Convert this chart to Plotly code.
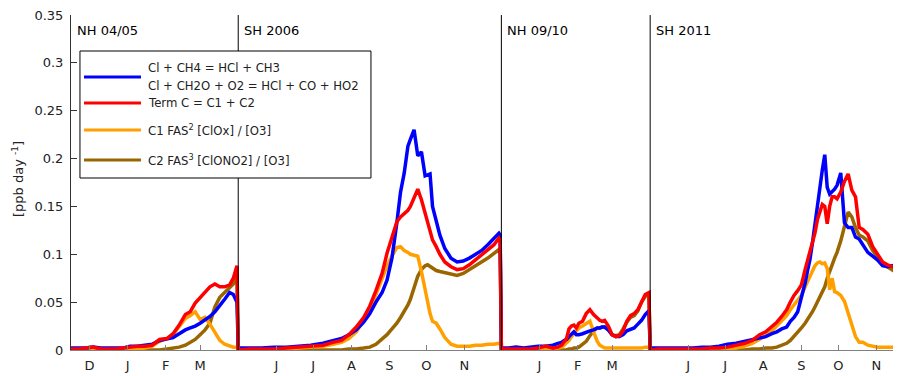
import plotly.graph_objects as go

# ---- data (x = day index across the four concatenated seasons) ----
day = [0, 6, 12, 18, 24, 30, 36, 42, 48, 54, 60, 66, 72, 78, 83, 88, 93, 97, 101, 105, 109, 113, 117, 121, 125, 129, 132, 135,
       136, 145, 155, 165, 175, 185, 195, 205, 213, 220, 226, 232, 238, 243, 248, 253, 257, 261, 265, 268, 271, 274, 276,
       279, 282, 285, 288, 290, 292, 294, 297, 300, 304, 309, 314, 319, 324, 329, 334, 339, 344, 348, 349,
       350, 356, 362, 368, 374, 380, 386, 392, 396, 399, 401, 403, 405, 407, 409, 411, 413, 416, 419, 422, 425, 428, 430,
       432, 434, 437, 440, 443, 446, 449, 452, 455, 458, 461, 464, 467, 470,
       471, 478, 485, 492, 499, 506, 513, 520, 527, 534, 541, 548, 554, 560, 565, 570, 574, 578, 582, 585, 588, 591, 594,
       597, 599, 601, 603, 605, 607, 609, 611, 613, 615, 617, 619, 621, 623, 626, 629, 632, 635, 638, 641, 644, 648,
       652, 656, 660, 664, 668, 672, 675]

cl_ch4 = [0.002, 0.002, 0.002, 0.003, 0.002, 0.002, 0.002, 0.002, 0.004, 0.004, 0.005, 0.006, 0.010, 0.012, 0.013, 0.017,
          0.021, 0.023, 0.025, 0.028, 0.031, 0.035, 0.040, 0.046, 0.053, 0.060, 0.058, 0.050,
          0.002, 0.002, 0.002, 0.003, 0.003, 0.004, 0.005, 0.007, 0.010, 0.012, 0.016, 0.021, 0.029, 0.038, 0.050, 0.060,
          0.073, 0.096, 0.133, 0.165, 0.185, 0.213, 0.220, 0.230, 0.203, 0.207, 0.182, 0.183, 0.184, 0.150, 0.135, 0.120,
          0.106, 0.096, 0.092, 0.093, 0.096, 0.100, 0.104, 0.110, 0.116, 0.122, 0.120,
          0.002, 0.002, 0.003, 0.002, 0.003, 0.004, 0.004, 0.005, 0.007, 0.008, 0.010, 0.011, 0.014, 0.017, 0.019, 0.016,
          0.016, 0.017, 0.019, 0.020, 0.021, 0.023, 0.023, 0.024, 0.024, 0.021, 0.016, 0.014, 0.014, 0.016, 0.020, 0.022,
          0.023, 0.027, 0.031, 0.037, 0.041,
          0.002, 0.002, 0.002, 0.002, 0.002, 0.002, 0.003, 0.003, 0.004, 0.006, 0.007, 0.009, 0.010, 0.012, 0.014, 0.017,
          0.019, 0.022, 0.024, 0.030, 0.034, 0.040, 0.054, 0.070, 0.083, 0.095, 0.112, 0.132, 0.152, 0.168, 0.188, 0.204,
          0.170, 0.163, 0.165, 0.168, 0.172, 0.185, 0.133, 0.128, 0.128, 0.118, 0.116, 0.110, 0.102, 0.098, 0.094, 0.088,
          0.087, 0.088, 0.089, 0.091]

term_c = [0.001, 0.001, 0.002, 0.003, 0.001, 0.001, 0.001, 0.002, 0.003, 0.004, 0.004, 0.005, 0.011, 0.012, 0.017, 0.026,
          0.037, 0.040, 0.049, 0.055, 0.060, 0.066, 0.069, 0.066, 0.066, 0.068, 0.075, 0.088,
          0.000, 0.001, 0.001, 0.001, 0.002, 0.003, 0.004, 0.005, 0.008, 0.010, 0.016, 0.024, 0.034, 0.046, 0.062, 0.080,
          0.101, 0.118, 0.134, 0.139, 0.143, 0.146, 0.150, 0.160, 0.168, 0.157, 0.143, 0.133, 0.122, 0.115, 0.108, 0.100,
          0.092, 0.087, 0.084, 0.085, 0.089, 0.094, 0.100, 0.104, 0.110, 0.117, 0.115,
          0.001, 0.001, 0.001, 0.001, 0.001, 0.002, 0.004, 0.002, 0.003, 0.005, 0.008, 0.012, 0.022, 0.025, 0.026, 0.023,
          0.028, 0.030, 0.038, 0.042, 0.037, 0.033, 0.031, 0.030, 0.031, 0.025, 0.016, 0.014, 0.015, 0.020, 0.030, 0.036,
          0.038, 0.042, 0.050, 0.058, 0.060,
          0.000, 0.001, 0.001, 0.001, 0.001, 0.001, 0.001, 0.002, 0.002, 0.003, 0.005, 0.007, 0.010, 0.016, 0.019, 0.024,
          0.029, 0.035, 0.042, 0.050, 0.057, 0.062, 0.068, 0.084, 0.094, 0.104, 0.113, 0.122, 0.136, 0.145, 0.152, 0.150,
          0.132, 0.150, 0.160, 0.160, 0.158, 0.165, 0.176, 0.184, 0.167, 0.160, 0.128, 0.126, 0.121, 0.108, 0.100, 0.092,
          0.089, 0.087, 0.084, 0.092]

c1_clox = [0, 0, 0, 0, 0, 0, 0, 0, 0.001, 0.001, 0.002, 0.004, 0.009, 0.012, 0.016, 0.025,
           0.033, 0.036, 0.040, 0.032, 0.034, 0.027, 0.018, 0.010, 0.006, 0.004, 0.003, 0.003,
           0, 0, 0.001, 0.001, 0.001, 0.002, 0.003, 0.004, 0.006, 0.008, 0.012, 0.019, 0.031, 0.042, 0.058, 0.074,
           0.088, 0.098, 0.107, 0.108, 0.104, 0.102, 0.100, 0.099, 0.098, 0.082, 0.062, 0.050, 0.038, 0.030, 0.028, 0.022,
           0.013, 0.006, 0.004, 0.004, 0.004, 0.005, 0.005, 0.006, 0.006, 0.007, 0.007,
           0.001, 0.001, 0.001, 0.001, 0.001, 0.001, 0.001, 0.001, 0.002, 0.003, 0.005, 0.007, 0.010, 0.014, 0.017, 0.020,
           0.023, 0.025, 0.028, 0.030, 0.019, 0.009, 0.005, 0.003, 0.002, 0.002, 0.002, 0.002, 0.002, 0.002, 0.002, 0.002,
           0.002, 0.002, 0.002, 0.003, 0.003,
           0, 0, 0, 0, 0, 0, 0, 0, 0.001, 0.001, 0.002, 0.004, 0.007, 0.011, 0.015, 0.020,
           0.025, 0.030, 0.036, 0.042, 0.047, 0.052, 0.057, 0.066, 0.072, 0.078, 0.084, 0.088, 0.091, 0.092, 0.090, 0.091,
           0.085, 0.063, 0.075, 0.061, 0.060, 0.057, 0.051, 0.038, 0.025, 0.014, 0.008, 0.008, 0.005, 0.004, 0.003, 0.003,
           0.003, 0.003, 0.004, 0.004]

c2_clono2 = [0, 0, 0, 0, 0, 0, 0, 0, 0, 0, 0, 0, 0.000, 0.001, 0.002, 0.003,
             0.005, 0.008, 0.011, 0.016, 0.021, 0.028, 0.045, 0.055, 0.060, 0.064, 0.069, 0.078,
             0, 0, 0, 0, 0, 0, 0, 0, 0, 0, 0.001, 0.001, 0.002, 0.003, 0.006, 0.011,
             0.016, 0.022, 0.028, 0.034, 0.040, 0.047, 0.053, 0.066, 0.077, 0.084, 0.088, 0.089, 0.087, 0.085, 0.083, 0.082,
             0.081, 0.080, 0.078, 0.080, 0.084, 0.087, 0.092, 0.096, 0.101, 0.106, 0.106,
             0, 0, 0, 0, 0, 0, 0, 0, 0, 0, 0, 0, 0.001, 0.001, 0.002, 0.002,
             0.003, 0.006, 0.009, 0.015, 0.020, 0.023, 0.023, 0.024, 0.024, 0.021, 0.016, 0.015, 0.016, 0.022, 0.029, 0.034,
             0.036, 0.041, 0.050, 0.056, 0.058,
             0, 0, 0, 0, 0, 0, 0, 0, 0, 0, 0, 0, 0.001, 0.001, 0.002, 0.002,
             0.003, 0.005, 0.007, 0.010, 0.014, 0.018, 0.023, 0.028, 0.032, 0.035, 0.040, 0.045, 0.050, 0.056, 0.061, 0.066,
             0.075, 0.081, 0.089, 0.096, 0.102, 0.114, 0.130, 0.144, 0.139, 0.128, 0.120, 0.118, 0.114, 0.104, 0.097, 0.091,
             0.087, 0.084, 0.080, 0.080]

month_days = [15, 46, 77, 105, 167, 197, 228, 259, 289, 320, 381, 412, 440, 502, 532, 563, 594, 624, 655]
month_labels = ['D', 'J', 'F', 'M', 'J', 'J', 'A', 'S', 'O', 'N', 'J', 'F', 'M', 'J', 'J', 'A', 'S', 'O', 'N']

segment_starts = [0, 136, 350, 471]
segment_labels = ['NH 04/05', 'SH 2006', 'NH 09/10', 'SH 2011']

y_ticks = [0, 0.05, 0.1, 0.15, 0.2, 0.25, 0.3, 0.35]
y_ticktext = ['0', '0.05', '0.1', '0.15', '0.2', '0.25', '0.3', '0.35']

legend_names = ['Cl + CH4 = HCl + CH3<br>Cl + CH2O + O2 = HCl + CO + HO2',
                'Term C = C1 + C2',
                'C1 FAS<sup>2</sup> [ClOx] / [O3]',
                'C2 FAS<sup>3</sup> [ClONO2] / [O3]']
colors = ['#0000FF', '#FF0000', '#FFA000', '#996600']
values = [cl_ch4, term_c, c1_clox, c2_clono2]

FONT = 'DejaVu Sans'
fig = go.Figure()
# draw order: brown, orange, blue, red (red on top)
for idx in [3, 2, 0, 1]:
    fig.add_trace(go.Scatter(x=day, y=values[idx], mode='lines', name=legend_names[idx],
                             line=dict(color=colors[idx], width=3.5), showlegend=False))

for s in segment_starts[1:]:
    fig.add_shape(type='line', x0=s, x1=s, y0=0, y1=1, xref='x', yref='paper',
                  line=dict(color='black', width=1))

for s, lab in zip(segment_starts, segment_labels):
    fig.add_annotation(x=s, y=0.334, xref='x', yref='y', text=lab, showarrow=False,
                       xanchor='left', yanchor='middle', xshift=4,
                       font=dict(family=FONT, size=13, color='black'))

fig.add_annotation(x=-0.064, y=0.51, xref='paper', yref='paper', text='[ppb day <sup>-1</sup>]',
                   textangle=-90, showarrow=False, xanchor='center', yanchor='middle',
                   font=dict(family=FONT, size=13, color='#222'))

# ---- legend box (drawn as paper-positioned shapes / text) ----
LEG_X0, LEG_X1, LEG_Y0, LEG_Y1 = 0.0108, 0.3614, 0.5134, 0.8925
SAMPLE_X0, SAMPLE_X1, TEXT_X = 0.0157, 0.0843, 0.0904
ROW_Y = [0.8150, 0.7373, 0.6567, 0.5672]
fig.add_shape(type='rect', xref='paper', yref='paper', x0=LEG_X0, x1=LEG_X1, y0=LEG_Y0, y1=LEG_Y1,
              line=dict(color='black', width=1), fillcolor='white', layer='above')
for i in range(4):
    fig.add_shape(type='line', xref='paper', yref='paper', x0=SAMPLE_X0, x1=SAMPLE_X1,
                  y0=ROW_Y[i], y1=ROW_Y[i], line=dict(color=colors[i], width=3), layer='above')
blue_lines = legend_names[0].split('<br>')
for txt, yy in zip(blue_lines, [0.8418, 0.7881]):
    fig.add_annotation(x=TEXT_X, y=yy, xref='paper', yref='paper', text=txt, showarrow=False,
                       xanchor='left', yanchor='middle', font=dict(family=FONT, size=11.7, color='#222'))
for i in range(1, 4):
    fig.add_annotation(x=TEXT_X, y=ROW_Y[i], xref='paper', yref='paper', text=legend_names[i],
                       showarrow=False, xanchor='left', yanchor='middle',
                       font=dict(family=FONT, size=11.7, color='#222'))

# page body has an 8px margin: figure is sized/margined to compensate
fig.update_layout(
    width=893, height=368,
    margin=dict(l=63, r=0, t=7, b=26, autoexpand=False),
    paper_bgcolor='white', plot_bgcolor='white',
    font=dict(family=FONT, size=13, color='#222'),
    showlegend=False,
    xaxis=dict(range=[0, 675], showgrid=False, zeroline=False, showline=True, automargin=False,
               linecolor='#808080', linewidth=1, ticks='inside', ticklen=5, tickcolor='#808080',
               tickvals=month_days, ticktext=month_labels, ticklabelstandoff=3,
               tickfont=dict(family=FONT, size=13, color='#222')),
    yaxis=dict(range=[0, 0.35], showgrid=False, zeroline=False, showline=True, automargin=False,
               linecolor='#333', linewidth=1, ticks='inside', ticklen=6, tickcolor='#333',
               tickvals=y_ticks, ticktext=y_ticktext, ticklabelstandoff=4,
               ticklabeloverflow='allow',
               tickfont=dict(family=FONT, size=13, color='#222')),
)

fig.write_html('out.html')
